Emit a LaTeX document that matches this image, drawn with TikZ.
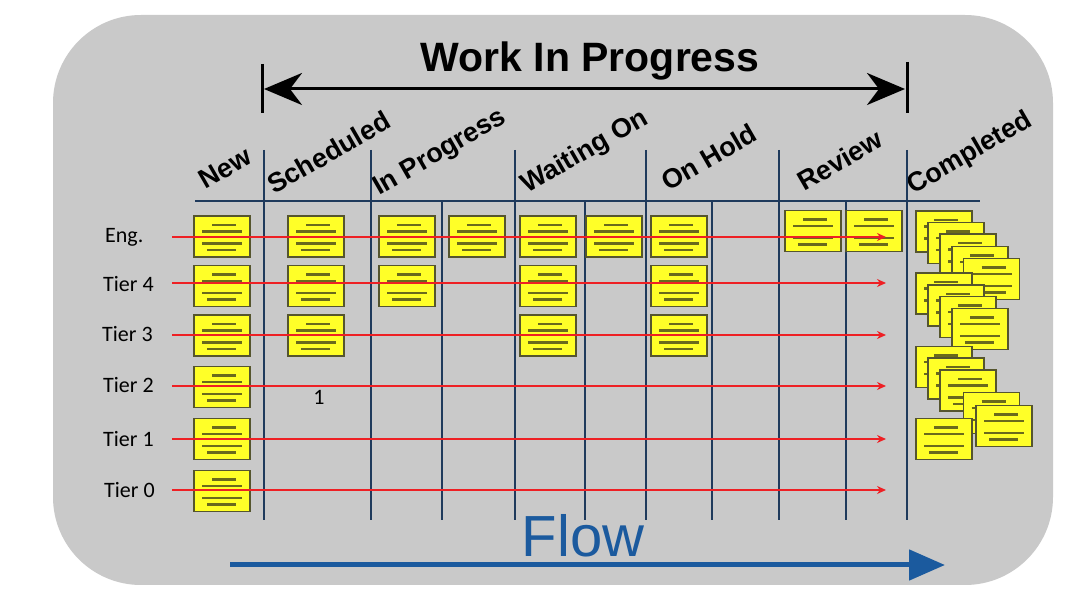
\documentclass[tikz,border=0pt]{standalone}
\usepackage{fontspec}
\newfontfamily\hfont{Liberation Sans}
\newfontfamily\cfont{Carlito}
\usetikzlibrary{arrows.meta}
\definecolor{bggray}{HTML}{C9C9C9}
\definecolor{colblue}{HTML}{1F3A5C}
\definecolor{rowred}{HTML}{EE2024}
\definecolor{notey}{RGB}{255,255,40}
\definecolor{noteb}{HTML}{55552E}
\definecolor{notel}{HTML}{6A6A1C}
\definecolor{flowblue}{HTML}{1B5A9E}
\tikzset{
  note/.style={rectangle, minimum width=56pt, minimum height=41pt, inner sep=0pt,
    fill=notey, draw=noteb, line width=1.6pt,
    path picture={
      \draw[notel, line width=2.4pt]
        ([xshift=18pt,yshift=-9pt]path picture bounding box.north west) -- ++(24pt,0pt)
        ([xshift=8pt,yshift=-15.5pt]path picture bounding box.north west) -- ++(40pt,0pt)
        ([xshift=8pt,yshift=-27.5pt]path picture bounding box.north west) -- ++(40pt,0pt)
        ([xshift=13pt,yshift=-34pt]path picture bounding box.north west) -- ++(29pt,0pt);
    }},
  header/.style={anchor=base west, rotate=30, inner sep=0pt, font=\hfont\fontsize{27}{27}\selectfont\bfseries},
  rowlabel/.style={anchor=west, inner sep=0pt, font=\cfont\fontsize{22}{22}\selectfont},
  colline/.style={colblue, line width=2pt},
  subline/.style={colblue, line width=1.1pt},
  rowarrow/.style={rowred, line width=1.8pt, -{Stealth[length=9pt,width=8pt]}},
}
\begin{document}
\begin{tikzpicture}[x=1pt,y=-1pt]
\useasboundingbox (0,0) rectangle (1080,601);
\fill[white] (0,0) rectangle (1080,601);
\fill[bggray, rounded corners=88pt] (53,15) rectangle (1053,585);

% Work In Progress span
\node[anchor=base, inner sep=0pt, font=\hfont\fontsize{41}{41}\selectfont\bfseries] (wip) at (590,72) {Work In Progress};
\coordinate (wl1) at (262,64); \coordinate (wl2) at (262,113);
\coordinate (wr1) at (907,62); \coordinate (wr2) at (907,113);
\coordinate (wa) at (264,89); \coordinate (wb) at (905,89);
\draw[black, line width=3pt] (wl1) -- (wl2);
\draw[black, line width=3pt] (wr1) -- (wr2);
\draw[black, line width=3pt, {Stealth[length=38pt,width=32pt,inset=12pt]}-{Stealth[length=38pt,width=32pt,inset=12pt]}] (wa) -- (wb);

% column headers
\node[header] (hNew) at (205,190) {New};
\node[header] (hSch) at (274,195) {Scheduled};
\node[header] (hInP) at (379,196) {In Progress};
\node[header] (hWai) at (527,194) {Waiting On};
\node[header] (hHol) at (668,192) {On Hold};
\node[header] (hRev) at (804,192) {Review};
\node[header] (hCom) at (913,195) {Completed};

% grid
\coordinate (h1) at (195,201); \coordinate (h2) at (980,201);
\draw[colline] (h1) -- (h2);
\foreach \x/\n in {264/a,371/b,515/c,646/d,779/e,907/f}{
  \coordinate (t\n) at (\x,150); \coordinate (b\n) at (\x,520);
  \draw[colline] (t\n) -- (b\n);
}
\foreach \x/\n in {442/g,585/h,712/i,846/j}{
  \coordinate (t\n) at (\x,201); \coordinate (b\n) at (\x,520);
  \draw[subline] (t\n) -- (b\n);
}

% notes
\node[note] (n1) at (222,236.5) {};
\node[note] (n2) at (316,236.5) {};
\node[note] (n3) at (407,236.5) {};
\node[note] (n4) at (477,236.5) {};
\node[note] (n5) at (548,236.5) {};
\node[note] (n6) at (614,236.5) {};
\node[note] (n7) at (679,236.5) {};
\node[note] (n8) at (813,231) {};
\node[note] (n9) at (874,231) {};
\node[note] (n10) at (222,286) {};
\node[note] (n11) at (316,286) {};
\node[note] (n12) at (407,286) {};
\node[note] (n13) at (548,286) {};
\node[note] (n14) at (679,286) {};
\node[note] (n15) at (222,335.5) {};
\node[note] (n16) at (316,335.5) {};
\node[note] (n17) at (548,335.5) {};
\node[note] (n18) at (679,335.5) {};
\node[note] (n19) at (222,387) {};
\node[note] (n20) at (222,439) {};
\node[note] (n21) at (222,491) {};

% completed stack
\node[note] (c1) at (944,231.5) {};
\node[note] (c2) at (956,243) {};
\node[note] (c3) at (968,254.5) {};
\node[note] (c4) at (980,267) {};
\node[note] (c5) at (991.5,279) {};
\node[note] (c6) at (944,293.5) {};
\node[note] (c7) at (956,305.5) {};
\node[note] (c8) at (968,317) {};
\node[note] (c9) at (980,329) {};
\node[note] (c10) at (944,367) {};
\node[note] (c11) at (956,378.5) {};
\node[note] (c12) at (968,390.5) {};
\node[note] (c13) at (991.5,413) {};
\node[note] (c14) at (1004,426) {};
\node[note] (c15) at (944,439) {};

% row labels and arrows
\node[rowlabel] (lE) at (105,237) {Eng.};
\node[rowlabel] (l4) at (103,284) {Tier 4};
\node[rowlabel] (l3) at (102,334) {Tier 3};
\node[rowlabel] (l2) at (103,385) {Tier 2};
\node[rowlabel] (l1) at (103,439) {Tier 1};
\node[rowlabel] (l0) at (104,490) {Tier 0};
\foreach \y/\n in {237/E,283/4,335/3,386/2,439/1,490/0}{
  \coordinate (rs\n) at (172,\y); \coordinate (re\n) at (886,\y);
  \draw[rowarrow] (rs\n) -- (re\n);
}
\node[inner sep=0pt, font=\cfont\fontsize{22}{22}\selectfont] (one) at (319,397) {1};

% Flow
\node[anchor=base, inner sep=0pt, text=flowblue, font=\hfont\fontsize{58}{58}\selectfont] (flow) at (583,557) {Flow};
\coordinate (fa) at (230,565); \coordinate (fb) at (945,565);
\draw[flowblue, line width=5pt, -{Triangle[length=36pt,width=30pt]}] (fa) -- (fb);
\end{tikzpicture}
\end{document}
